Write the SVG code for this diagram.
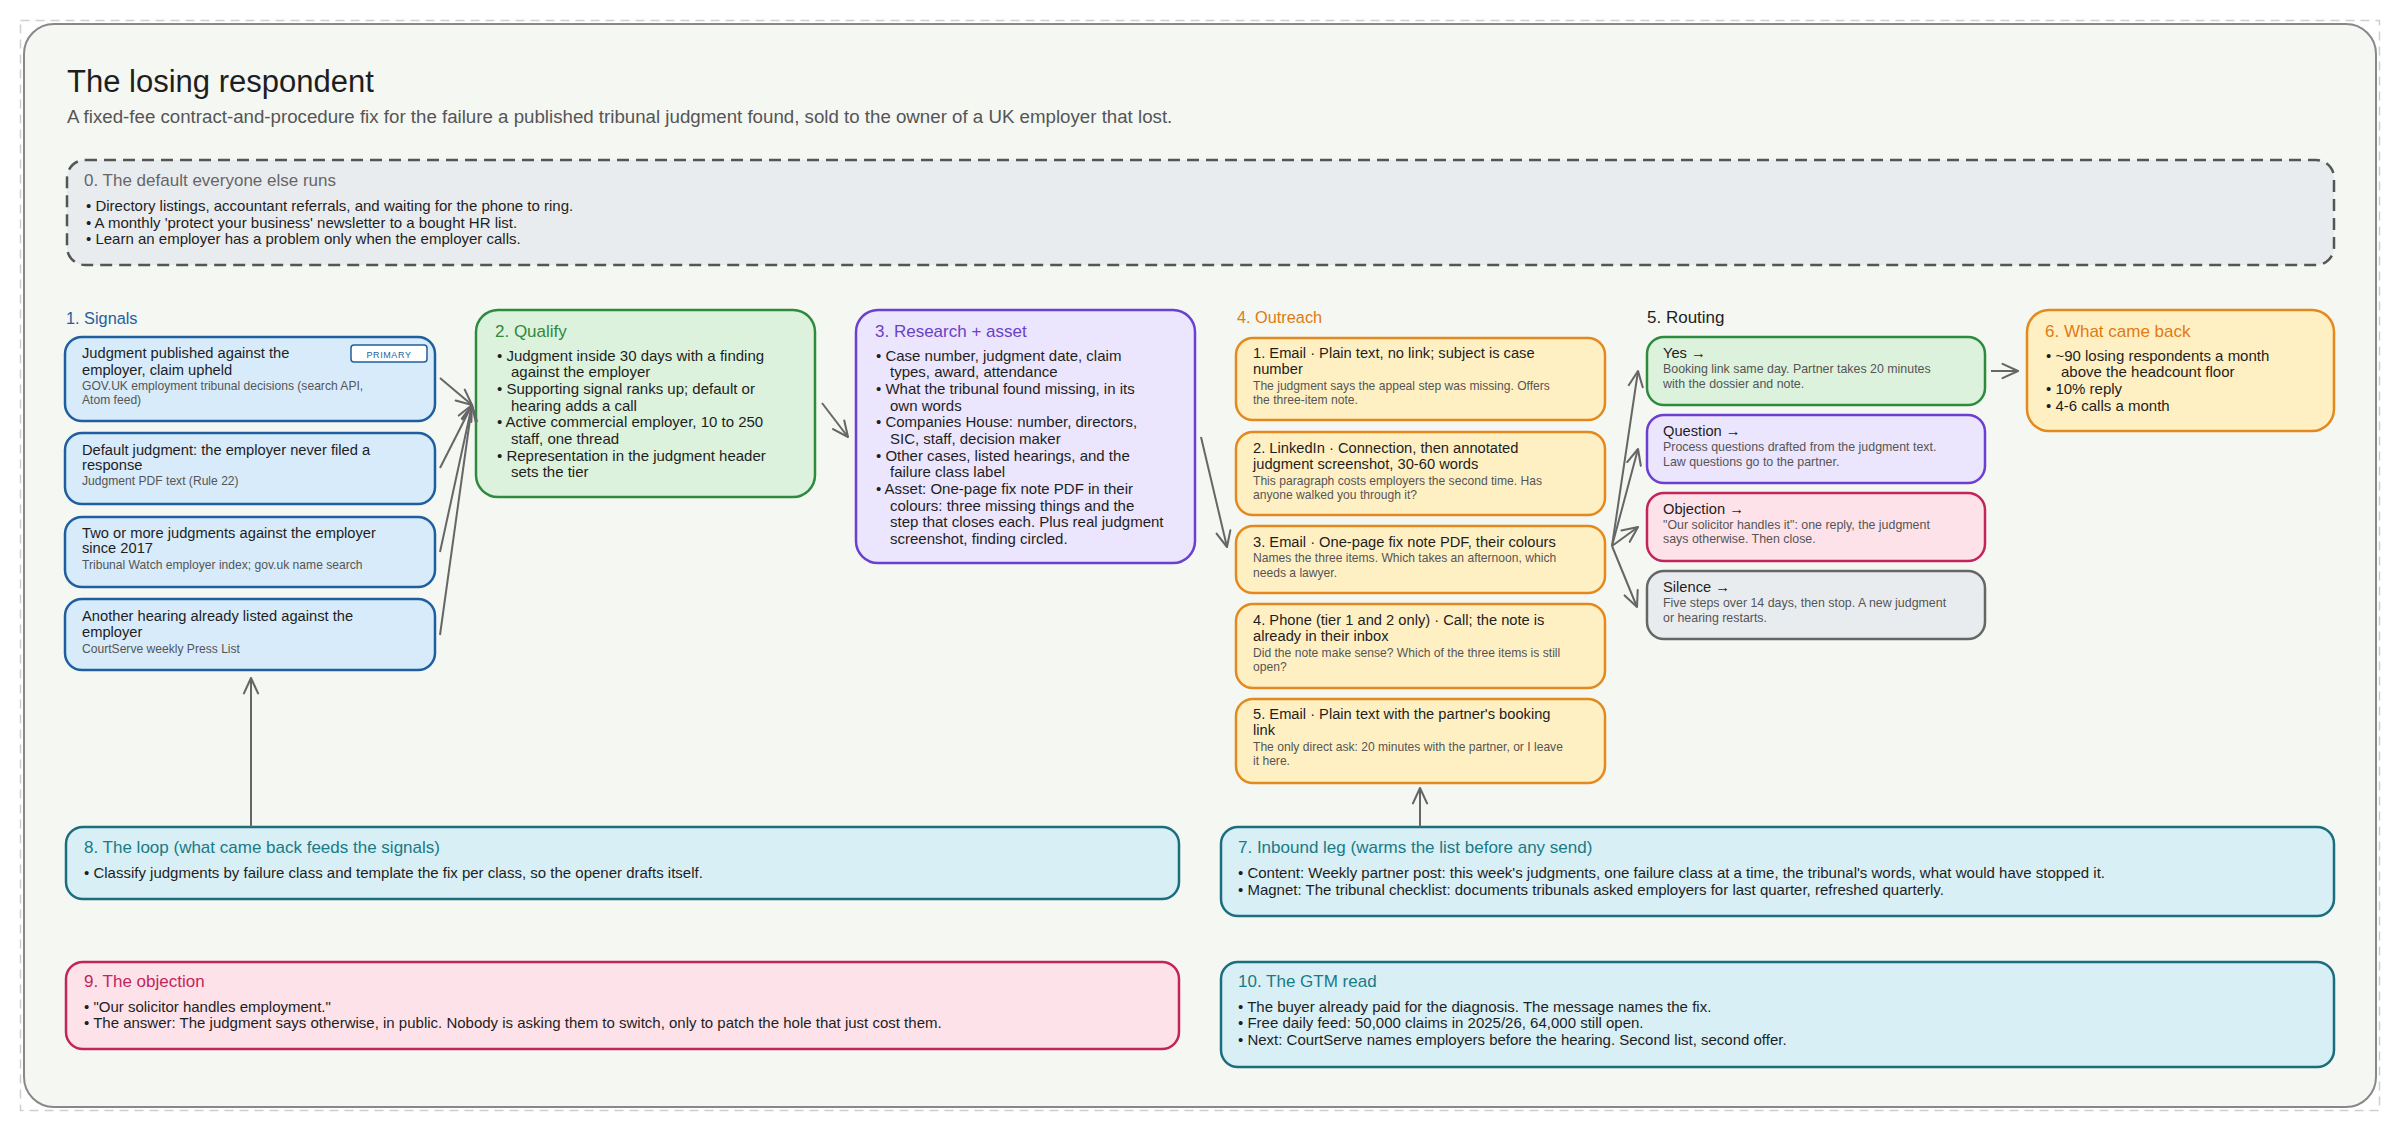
<svg xmlns="http://www.w3.org/2000/svg" width="2400" height="1132" viewBox="0 0 2400 1132">
<defs>
<marker id="ah" viewBox="0 0 14 14" refX="13" refY="7" markerWidth="18" markerHeight="18" markerUnits="userSpaceOnUse" orient="auto">
<path d="M1,1.5 L13,7 L1,12.5" fill="none" stroke="#666" stroke-width="1.6" stroke-linecap="round" stroke-linejoin="round"/>
</marker>
</defs>
<style>
text{font-family:"Liberation Sans",Arial,sans-serif;fill:#1e1e1e}
.h1{font-size:31px}
.sub{font-size:18.7px;fill:#555}
.sec{font-size:17px}
.sec2{font-size:16.3px}
.t{font-size:14.7px}
.b{font-size:15px}
.bs{font-size:15px}
.s{font-size:12.1px;fill:#555}
.rs{font-size:12.4px;fill:#555}
.blue rect.n{fill:#d7ebfb;stroke:#1f5fa0}
.green rect.n{fill:#dcf2dd;stroke:#2e8b3e}
.purple rect.n{fill:#ebe5fd;stroke:#6a3fd1}
.orange rect.n{fill:#fff0c4;stroke:#e3891e}
.pink rect.n{fill:#fde2ea;stroke:#c2255c}
.grey rect.n{fill:#e9ecef;stroke:#666}
.teal rect.n{fill:#d8eff6;stroke:#1a6e7e}
rect.n{stroke-width:2.5}
.cb{fill:#1f5fa0}.cg{fill:#2f8a3a}.cp{fill:#6a40c8}.co{fill:#e07b12}.ct{fill:#1a7a85}.cr{fill:#c2255c}.cgr{fill:#666}
#connectors path{fill:none;stroke:#666;stroke-width:2;marker-end:url(#ah)}
</style>
<rect x="0" y="0" width="2400" height="1132" fill="#ffffff"/>
<rect x="20.5" y="20.5" width="2359" height="1090" fill="none" stroke="#cfcfcf" stroke-width="1.5" stroke-dasharray="9 6"/>
<rect x="24" y="24" width="2352" height="1083" rx="30" fill="#f4f7f2" stroke="#888" stroke-width="2"/>

<g id="header">
<text class="h1" x="67" y="92">The losing respondent</text>
<text class="sub" x="67" y="123">A fixed-fee contract-and-procedure fix for the failure a published tribunal judgment found, sold to the owner of a UK employer that lost.</text>
</g>

<g id="n0" class="grey">
<rect x="67" y="160" width="2267" height="105" rx="18" fill="#e9ecef" stroke="#555" stroke-width="2.5" stroke-dasharray="12 7"/>
<text class="sec cgr" x="84" y="186">0. The default everyone else runs</text>
<text class="bs" x="86" y="211">• Directory listings, accountant referrals, and waiting for the phone to ring.</text>
<text class="bs" x="86" y="228">• A monthly 'protect your business' newsletter to a bought HR list.</text>
<text class="bs" x="86" y="244">• Learn an employer has a problem only when the employer calls.</text>
</g>

<g id="signals-label"><text class="sec2 cb" x="66" y="324">1. Signals</text></g>
<g id="s1" class="blue">
<rect class="n" x="65" y="337" width="370" height="84" rx="17"/>
<text class="t" x="82" y="358">Judgment published against the</text>
<text class="t" x="82" y="375">employer, claim upheld</text>
<text class="s" x="82" y="390">GOV.UK employment tribunal decisions (search API,</text>
<text class="s" x="82" y="404">Atom feed)</text>
<rect x="351" y="345" width="76" height="17" rx="3" fill="#ffffff" stroke="#1f5fa0" stroke-width="1.5"/>
<text x="389" y="357.5" font-size="9" text-anchor="middle" letter-spacing="0.6" class="cb">PRIMARY</text>
</g>
<g id="s2" class="blue">
<rect class="n" x="65" y="433" width="370" height="71" rx="17"/>
<text class="t" x="82" y="455">Default judgment: the employer never filed a</text>
<text class="t" x="82" y="470">response</text>
<text class="s" x="82" y="485">Judgment PDF text (Rule 22)</text>
</g>
<g id="s3" class="blue">
<rect class="n" x="65" y="517" width="370" height="70" rx="17"/>
<text class="t" x="82" y="538">Two or more judgments against the employer</text>
<text class="t" x="82" y="553">since 2017</text>
<text class="s" x="82" y="569">Tribunal Watch employer index; gov.uk name search</text>
</g>
<g id="s4" class="blue">
<rect class="n" x="65" y="599" width="370" height="71" rx="17"/>
<text class="t" x="82" y="621">Another hearing already listed against the</text>
<text class="t" x="82" y="637">employer</text>
<text class="s" x="82" y="653">CourtServe weekly Press List</text>
</g>

<g id="qualify" class="green">
<rect class="n" x="476" y="310" width="339" height="187" rx="22"/>
<text class="sec cg" x="495" y="337">2. Qualify</text>
<text class="b" x="497" y="361">• Judgment inside 30 days with a finding</text>
<text class="b" x="511" y="377">against the employer</text>
<text class="b" x="497" y="394">• Supporting signal ranks up; default or</text>
<text class="b" x="511" y="411">hearing adds a call</text>
<text class="b" x="497" y="427">• Active commercial employer, 10 to 250</text>
<text class="b" x="511" y="444">staff, one thread</text>
<text class="b" x="497" y="461">• Representation in the judgment header</text>
<text class="b" x="511" y="477">sets the tier</text>
</g>

<g id="research" class="purple">
<rect class="n" x="856" y="310" width="339" height="253" rx="22"/>
<text class="sec cp" x="875" y="337">3. Research + asset</text>
<text class="b" x="876" y="361">• Case number, judgment date, claim</text>
<text class="b" x="890" y="377">types, award, attendance</text>
<text class="b" x="876" y="394">• What the tribunal found missing, in its</text>
<text class="b" x="890" y="411">own words</text>
<text class="b" x="876" y="427">• Companies House: number, directors,</text>
<text class="b" x="890" y="444">SIC, staff, decision maker</text>
<text class="b" x="876" y="461">• Other cases, listed hearings, and the</text>
<text class="b" x="890" y="477">failure class label</text>
<text class="b" x="876" y="494">• Asset: One-page fix note PDF in their</text>
<text class="b" x="890" y="511">colours: three missing things and the</text>
<text class="b" x="890" y="527">step that closes each. Plus real judgment</text>
<text class="b" x="890" y="544">screenshot, finding circled.</text>
</g>

<g id="outreach-label"><text class="sec2 co" x="1237" y="323">4. Outreach</text></g>
<g id="o1" class="orange">
<rect class="n" x="1236" y="338" width="369" height="82" rx="17"/>
<text class="t" x="1253" y="358">1. Email · Plain text, no link; subject is case</text>
<text class="t" x="1253" y="374">number</text>
<text class="s" x="1253" y="390">The judgment says the appeal step was missing. Offers</text>
<text class="s" x="1253" y="404">the three-item note.</text>
</g>
<g id="o2" class="orange">
<rect class="n" x="1236" y="432" width="369" height="83" rx="17"/>
<text class="t" x="1253" y="453">2. LinkedIn · Connection, then annotated</text>
<text class="t" x="1253" y="469">judgment screenshot, 30-60 words</text>
<text class="s" x="1253" y="485">This paragraph costs employers the second time. Has</text>
<text class="s" x="1253" y="499">anyone walked you through it?</text>
</g>
<g id="o3" class="orange">
<rect class="n" x="1236" y="526" width="369" height="67" rx="17"/>
<text class="t" x="1253" y="547">3. Email · One-page fix note PDF, their colours</text>
<text class="s" x="1253" y="562">Names the three items. Which takes an afternoon, which</text>
<text class="s" x="1253" y="577">needs a lawyer.</text>
</g>
<g id="o4" class="orange">
<rect class="n" x="1236" y="604" width="369" height="84" rx="17"/>
<text class="t" x="1253" y="625">4. Phone (tier 1 and 2 only) · Call; the note is</text>
<text class="t" x="1253" y="641">already in their inbox</text>
<text class="s" x="1253" y="657">Did the note make sense? Which of the three items is still</text>
<text class="s" x="1253" y="671">open?</text>
</g>
<g id="o5" class="orange">
<rect class="n" x="1236" y="699" width="369" height="84" rx="17"/>
<text class="t" x="1253" y="719">5. Email · Plain text with the partner's booking</text>
<text class="t" x="1253" y="735">link</text>
<text class="s" x="1253" y="751">The only direct ask: 20 minutes with the partner, or I leave</text>
<text class="s" x="1253" y="765">it here.</text>
</g>

<g id="routing-label"><text class="sec" x="1647" y="323">5. Routing</text></g>
<g id="r-yes" class="green">
<rect class="n" x="1647" y="337" width="338" height="68" rx="17"/>
<text class="t" x="1663" y="358">Yes →</text>
<text class="rs" x="1663" y="373">Booking link same day. Partner takes 20 minutes</text>
<text class="rs" x="1663" y="388">with the dossier and note.</text>
</g>
<g id="r-question" class="purple">
<rect class="n" x="1647" y="415" width="338" height="68" rx="17"/>
<text class="t" x="1663" y="436">Question →</text>
<text class="rs" x="1663" y="451">Process questions drafted from the judgment text.</text>
<text class="rs" x="1663" y="466">Law questions go to the partner.</text>
</g>
<g id="r-objection" class="pink">
<rect class="n" x="1647" y="493" width="338" height="68" rx="17"/>
<text class="t" x="1663" y="514">Objection →</text>
<text class="rs" x="1663" y="529">"Our solicitor handles it": one reply, the judgment</text>
<text class="rs" x="1663" y="543">says otherwise. Then close.</text>
</g>
<g id="r-silence" class="grey">
<rect class="n" x="1647" y="571" width="338" height="68" rx="17"/>
<text class="t" x="1663" y="592">Silence →</text>
<text class="rs" x="1663" y="607">Five steps over 14 days, then stop. A new judgment</text>
<text class="rs" x="1663" y="622">or hearing restarts.</text>
</g>

<g id="came-back" class="orange">
<rect class="n" x="2027" y="310" width="307" height="121" rx="22"/>
<text class="sec co" x="2045" y="337">6. What came back</text>
<text class="b" x="2046" y="361">• ~90 losing respondents a month</text>
<text class="b" x="2061" y="377">above the headcount floor</text>
<text class="b" x="2046" y="394">• 10% reply</text>
<text class="b" x="2046" y="411">• 4-6 calls a month</text>
</g>

<g id="loop" class="teal">
<rect class="n" x="66" y="827" width="1113" height="72" rx="17"/>
<text class="sec ct" x="84" y="853">8. The loop (what came back feeds the signals)</text>
<text class="bs" x="84" y="878">• Classify judgments by failure class and template the fix per class, so the opener drafts itself.</text>
</g>

<g id="inbound" class="teal">
<rect class="n" x="1221" y="827" width="1113" height="89" rx="17"/>
<text class="sec ct" x="1238" y="853">7. Inbound leg (warms the list before any send)</text>
<text class="bs" x="1238" y="878">• Content: Weekly partner post: this week's judgments, one failure class at a time, the tribunal's words, what would have stopped it.</text>
<text class="bs" x="1238" y="895">• Magnet: The tribunal checklist: documents tribunals asked employers for last quarter, refreshed quarterly.</text>
</g>

<g id="objection" class="pink">
<rect class="n" x="66" y="962" width="1113" height="87" rx="17"/>
<text class="sec cr" x="84" y="987">9. The objection</text>
<text class="bs" x="84" y="1012">• "Our solicitor handles employment."</text>
<text class="bs" x="84" y="1028">• The answer: The judgment says otherwise, in public. Nobody is asking them to switch, only to patch the hole that just cost them.</text>
</g>

<g id="gtm" class="teal">
<rect class="n" x="1221" y="962" width="1113" height="105" rx="17"/>
<text class="sec ct" x="1238" y="987">10. The GTM read</text>
<text class="bs" x="1238" y="1012">• The buyer already paid for the diagnosis. The message names the fix.</text>
<text class="bs" x="1238" y="1028">• Free daily feed: 50,000 claims in 2025/26, 64,000 still open.</text>
<text class="bs" x="1238" y="1045">• Next: CourtServe names employers before the hearing. Second list, second offer.</text>
</g>

<g id="connectors">
<path d="M440,378 L472,405"/>
<path d="M440,468 L472,405"/>
<path d="M440,552 L472,405"/>
<path d="M440,635 L472,405"/>
<path d="M822,403 L848,437"/>
<path d="M1201,437 L1227,547"/>
<path d="M1612,546 L1638,371"/>
<path d="M1612,546 L1638,449"/>
<path d="M1612,546 L1638,527"/>
<path d="M1612,546 L1637,607"/>
<path d="M1991,371 L2018,371"/>
<path d="M251,827 L251,678"/>
<path d="M1420,827 L1420,788"/>
</g>
</svg>
